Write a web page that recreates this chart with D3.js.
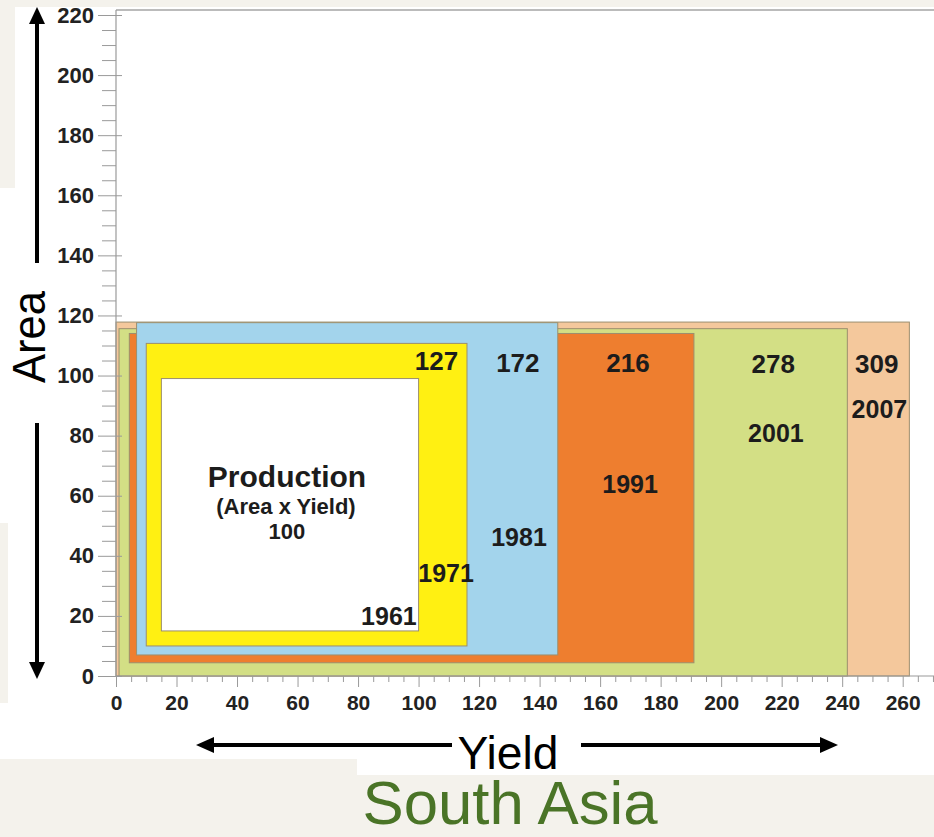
<!DOCTYPE html>
<html>
<head>
<meta charset="utf-8">
<script src="https://cdn.jsdelivr.net/npm/d3@7"></script>
<style>
  html, body { margin: 0; padding: 0; background: #ffffff; }
  svg { display: block; }
  text { font-family: "Liberation Sans", Arial, Helvetica, sans-serif; }
</style>
</head>
<body>
<svg id="chart" width="934" height="837"></svg>
<script>
// Production growth in South Asia: each year is a box whose width is the
// yield index and whose height is the area index (1961 = 100).
const years      = [1961, 1971, 1981, 1991, 2001, 2007];
const production = [100, 127, 172, 216, 278, 309];
const yieldFrom  = [15, 10, 6.8, 4.4, 1, 0];
const yieldTo    = [100, 116, 146, 191, 241.7, 262.2];
const areaFrom   = [15, 10, 7, 4.4, 0, 0];
const areaTo     = [99, 110.7, 117.6, 114, 115.6, 117.8];

const yTickLabels = [0, 20, 40, 60, 80, 100, 120, 140, 160, 180, 200, 220];
const xTickLabels = [0, 20, 40, 60, 80, 100, 120, 140, 160, 180, 200, 220, 240, 260];

// Fill colours per year
const fills = ["#ffffff", "#fff012", "#a3d4ec", "#ee7e2f", "#d3df85", "#f4c89c"];

// Where the value and year labels sit (in axis units)
const valueSpots = [[56.5, 45.6], [105.9, 101.8], [132.8, 101.2], [169.2, 101.2], [217.2, 100.9], [251.4, 100.9]];
const yearSpots  = [[90.2, 17], [109.1, 31.3], [133.2, 43.3], [169.9, 60.9], [218.1, 78], [252.3, 85.8]];

const svg = d3.select("#chart");
const W = 934, H = 837;

// faint paper texture patches around the figure
const paper = "#f4f2ec";
svg.append("rect").attr("x", 0).attr("y", 0).attr("width", W).attr("height", 7).attr("fill", paper);
svg.append("rect").attr("x", 0).attr("y", 0).attr("width", 15).attr("height", 188).attr("fill", paper);
svg.append("rect").attr("x", 0).attr("y", 523).attr("width", 8).attr("height", 180).attr("fill", paper);
svg.append("rect").attr("x", 0).attr("y", 759).attr("width", 357).attr("height", H - 759).attr("fill", paper);
svg.append("rect").attr("x", 357).attr("y", 775).attr("width", W - 357).attr("height", H - 775).attr("fill", paper);

const x = d3.scaleLinear().domain([0, 260]).range([116, 902.7]);
const y = d3.scaleLinear().domain([0, 220]).range([676, 15]);

// plot frame top edge
svg.append("line")
  .attr("x1", 116).attr("x2", W).attr("y1", 10).attr("y2", 10)
  .attr("stroke", "#a5a5a5").attr("stroke-width", 1.5);

// boxes, largest first
const order = d3.range(years.length).reverse();
svg.append("g").selectAll("rect")
  .data(order)
  .join("rect")
  .attr("x", i => x(yieldFrom[i]))
  .attr("y", i => y(areaTo[i]))
  .attr("width", i => x(yieldTo[i]) - x(yieldFrom[i]))
  .attr("height", i => y(areaFrom[i]) - y(areaTo[i]))
  .attr("fill", i => fills[i])
  .attr("stroke", "#9c8f6e")
  .attr("stroke-width", 1);

// ---- axes ----
const axisColor = "#9a9a9a";
const yMinor = d3.range(0, 221, 5).filter(v => v % 20 !== 0);
const xMinor = d3.range(0, 271, 5).filter(v => v % 20 !== 0);

// y minor ticks
svg.append("g").attr("transform", "translate(116,0)")
  .call(d3.axisLeft(y).tickValues(yMinor).tickSize(14).tickFormat(""))
  .call(g => g.select(".domain").remove())
  .call(g => g.selectAll("line").attr("stroke", axisColor));

// y major ticks + labels
svg.append("g").attr("transform", "translate(116,0)")
  .call(d3.axisLeft(y).tickValues(yTickLabels).tickSize(18).tickPadding(4))
  .call(g => g.select(".domain").remove())
  .call(g => g.selectAll("line").attr("stroke", axisColor).attr("x2", 6).attr("x1", -18))
  .call(g => g.selectAll("text")
    .attr("font-family", "'Liberation Sans', Arial, sans-serif")
    .attr("font-size", 22).attr("font-weight", "bold").attr("fill", "#222"));

// y axis line
svg.append("line").attr("x1", 116).attr("x2", 116).attr("y1", 10).attr("y2", 676)
  .attr("stroke", axisColor).attr("stroke-width", 1.2);

// x minor ticks
const xExt = d3.scaleLinear().domain([0, 270]).range([116, x(270)]);
svg.append("g").attr("transform", "translate(0,676)")
  .call(d3.axisBottom(xExt).tickValues(xMinor).tickSize(6).tickFormat(""))
  .call(g => g.select(".domain").remove())
  .call(g => g.selectAll("line").attr("stroke", axisColor));

// x major ticks + labels
svg.append("g").attr("transform", "translate(0,676)")
  .call(d3.axisBottom(x).tickValues(xTickLabels).tickSize(11).tickPadding(8))
  .call(g => g.select(".domain").remove())
  .call(g => g.selectAll("line").attr("stroke", axisColor))
  .call(g => g.selectAll("text")
    .attr("font-family", "'Liberation Sans', Arial, sans-serif")
    .attr("font-size", 21).attr("font-weight", "bold").attr("fill", "#222"));

// x axis line
svg.append("line").attr("x1", 116).attr("x2", W).attr("y1", 676).attr("y2", 676)
  .attr("stroke", axisColor).attr("stroke-width", 1.2);

// ---- labels inside boxes ----
const labelFill = "#1c1c1c";
const labels = svg.append("g")
  .attr("font-weight", "bold").attr("fill", labelFill).attr("text-anchor", "middle");

// production value labels (the 1961 one sits under the title block)
labels.selectAll("text.val")
  .data(d3.range(years.length))
  .join("text")
  .attr("class", "val")
  .attr("x", i => x(valueSpots[i][0]))
  .attr("y", i => y(valueSpots[i][1]))
  .attr("font-size", i => i === 0 ? 22 : 26)
  .text(i => production[i]);

labels.selectAll("text.yr")
  .data(d3.range(years.length))
  .join("text")
  .attr("class", "yr")
  .attr("x", i => x(yearSpots[i][0]))
  .attr("y", i => y(yearSpots[i][1]))
  .attr("font-size", 25)
  .text(i => years[i]);

labels.append("text").attr("x", 287).attr("y", 487).attr("font-size", 30).text("Production");
labels.append("text").attr("x", 286).attr("y", 514).attr("font-size", 22).text("(Area x Yield)");

// ---- axis titles with arrows ----
const arrowHead = (g, pts) => g.append("path").attr("d", "M" + pts.join("L") + "Z").attr("fill", "#000");

// Area (vertical)
svg.append("line").attr("x1", 37).attr("x2", 37).attr("y1", 263).attr("y2", 20)
  .attr("stroke", "#000").attr("stroke-width", 4);
arrowHead(svg, [[37, 7], [29, 24], [45, 24]]);
svg.append("line").attr("x1", 37).attr("x2", 37).attr("y1", 423).attr("y2", 665)
  .attr("stroke", "#000").attr("stroke-width", 4);
arrowHead(svg, [[37, 679], [29, 662], [45, 662]]);
svg.append("text")
  .attr("transform", "translate(45,337) rotate(-90)")
  .attr("text-anchor", "middle")
  .attr("font-size", 46)
  .attr("textLength", 92).attr("lengthAdjust", "spacingAndGlyphs")
  .attr("fill", "#000")
  .text("Area");

// Yield (horizontal)
svg.append("line").attr("x1", 210).attr("x2", 452).attr("y1", 745).attr("y2", 745)
  .attr("stroke", "#000").attr("stroke-width", 4);
arrowHead(svg, [[196, 745], [214, 737], [214, 753]]);
svg.append("line").attr("x1", 581).attr("x2", 824).attr("y1", 745).attr("y2", 745)
  .attr("stroke", "#000").attr("stroke-width", 4);
arrowHead(svg, [[838, 745], [820, 737], [820, 753]]);
svg.append("text")
  .attr("x", 508).attr("y", 769)
  .attr("text-anchor", "middle")
  .attr("font-size", 47)
  .attr("textLength", 101).attr("lengthAdjust", "spacingAndGlyphs")
  .attr("fill", "#000")
  .text("Yield");

// region title
svg.append("text")
  .attr("x", 510).attr("y", 824)
  .attr("text-anchor", "middle")
  .attr("font-size", 61)
  .attr("textLength", 295).attr("lengthAdjust", "spacingAndGlyphs")
  .attr("fill", "#4a7427")
  .text("South Asia");
</script>
</body>
</html>
